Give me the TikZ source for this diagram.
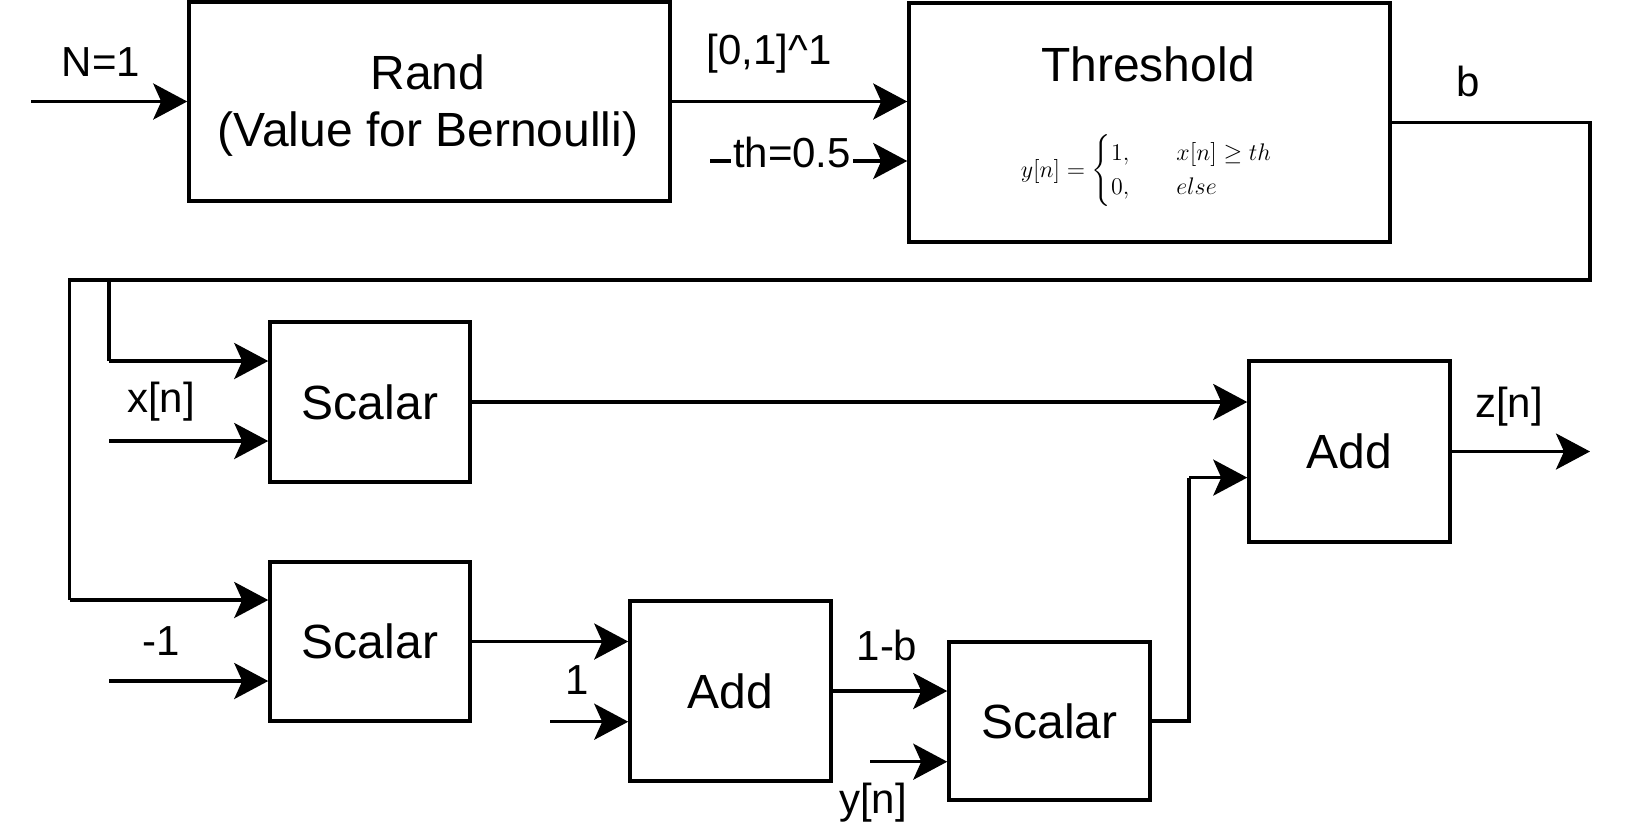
\documentclass[tikz,border=0pt]{standalone}
\usepackage{amsmath}
\usepackage{fontspec}
\setmainfont{Liberation Sans}
\usetikzlibrary{arrows.meta}
\begin{document}
\begin{tikzpicture}[x=0.5pt,y=-0.5pt,line width=1.75pt,
  blk/.style={draw,line width=1.75pt,inner sep=0pt,font=\fontsize{24}{31}\selectfont,align=center},
  btxt/.style={font=\fontsize{24}{28}\selectfont,inner sep=1pt},
  lbl/.style={font=\fontsize{21}{25}\selectfont,inner sep=1pt},
  arr/.style={-{Stealth[length=17pt,width=18pt,inset=4pt]}}]
\useasboundingbox (0,0) rectangle (1628,832);
% blocks
\node[blk,minimum width=240.5pt,minimum height=99.5pt] (rand) at (429.5,101.5) {};
\node[btxt] (randa) at (428,72) {Rand};
\node[btxt] (randb) at (428,134) {(Value for Bernoulli)};
\node[blk,minimum width=240.5pt,minimum height=119.5pt] (thr) at (1149.5,122.5) {};
\node[btxt] (thrtitle) at (1148,64) {Threshold};
\node[inner sep=0pt,font=\fontsize{11.5}{14}\selectfont] (thrf) at (1147,171)
  {$y[n]=\begin{cases}1, & \hspace{12pt} x[n]\geq th\\ 0, & \hspace{12pt} else\end{cases}$};
\node[blk,minimum width=100pt,minimum height=80pt] (s1) at (370,402) {Scalar};
\node[blk,minimum width=100pt,minimum height=79.5pt] (s2) at (370,641.5) {Scalar};
\node[blk,minimum width=100.5pt,minimum height=90pt] (a1) at (730.5,691) {Add};
\node[blk,minimum width=100.5pt,minimum height=79pt] (s3) at (1049.5,721) {Scalar};
\node[blk,minimum width=100.5pt,minimum height=90.5pt] (a2) at (1349.5,451.5) {Add};
% free ends
\coordinate (n1in) at (31,101.5);
\coordinate (thin) at (710,161);
\coordinate (bR) at (1590,122.5);
\coordinate (bRb) at (1590,280);
\coordinate (bL) at (69.5,280);
\coordinate (bLb) at (69.5,600);
\coordinate (bM) at (109,280);
\coordinate (bMb) at (109,361);
\coordinate (xin) at (109,441);
\coordinate (m1in) at (109,681);
\coordinate (onein) at (550,721.7);
\coordinate (yin) at (870,761.7);
\coordinate (s3j) at (1189,721);
\coordinate (s3k) at (1189,477.6);
\coordinate (zout) at (1590,451.5);
% connectors
\draw[arr] (n1in) -- (rand.west);
\draw[arr] (rand.east) -- (rand.east -| thr.west);
\draw[arr] (thin) -- (thin -| thr.west);
\draw (thr.east) -- (bR) -- (bRb) -- (bL) -- (bLb);
\draw[arr] (bLb) -- (bLb -| s2.west);
\draw (bM) -- (bMb);
\draw[arr] (bMb) -- (bMb -| s1.west);
\draw[arr] (xin) -- (xin -| s1.west);
\draw[arr] (m1in) -- (m1in -| s2.west);
\draw[arr] (s1.east) -- (s1.east -| a2.west);
\draw[arr] (s2.east) -- (s2.east -| a1.west);
\draw[arr] (onein) -- (onein -| a1.west);
\draw[arr] (a1.east) -- (a1.east -| s3.west);
\draw[arr] (yin) -- (yin -| s3.west);
\draw (s3.east) -- (s3j) -- (s3k);
\draw[arr] (s3k) -- (s3k -| a2.west);
\draw[arr] (a2.east) -- (zout);
% labels
\node[lbl] (ln1) at (101,62) {N=1};
\node[lbl] (lrange) at (769,54) {[0,1]\textasciicircum 1};
\node[lbl,fill=white] (lth) at (792,152) {th=0.5};
\node[lbl] (lb) at (1468,81) {b};
\node[lbl] (lx) at (161,402) {x[n]};
\node[lbl] (lm1) at (161,641) {-1};
\node[lbl] (lone) at (577,680) {1};
\node[lbl] (l1b) at (887,645) {1-b};
\node[lbl] (ly) at (873,803) {y[n]};
\node[lbl] (lz) at (1509,407) {z[n]};
\end{tikzpicture}
\end{document}
